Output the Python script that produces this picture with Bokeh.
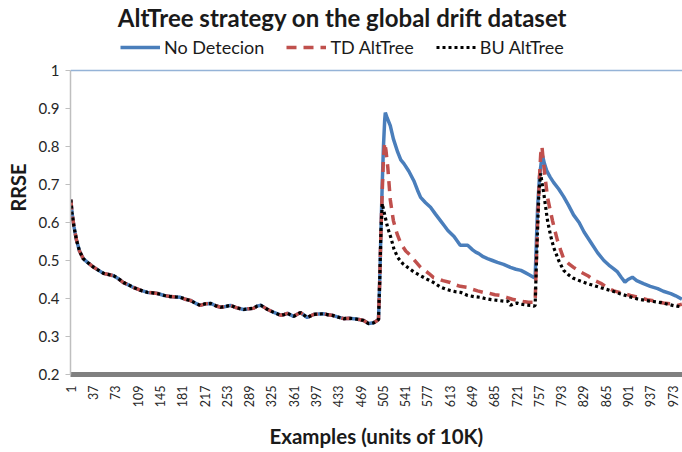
from bokeh.plotting import figure
from bokeh.models import Range1d, FixedTicker, Legend, LegendItem, Span, Label
from bokeh.embed import file_html
from bokeh.resources import INLINE
import math

# ---------------- data ----------------
x_ticks = [1, 37, 73, 109, 145, 181, 217, 253, 289, 325, 361, 397, 433, 469,
           505, 541, 577, 613, 649, 685, 721, 757, 793, 829, 865, 901, 937, 973]
y_ticks = [0.2, 0.3, 0.4, 0.5, 0.6, 0.7, 0.8, 0.9, 1.0]

# segment before the first drift: the three strategies coincide
x_shared = [1, 3, 6, 10, 15, 21, 28, 38, 46, 54, 62, 70, 78, 86, 94, 102, 113, 125,
            133, 141, 152, 162, 170, 178, 186, 194, 202, 210, 218, 227, 235, 243, 251,
            259, 268, 280, 288, 296, 302, 308, 314, 319, 328, 340, 346, 351, 356, 361,
            366, 372, 378, 383, 388, 393, 401, 409, 417, 425, 433, 442, 450, 458, 466,
            474, 482, 490, 496, 498]
y_shared = [0.66, 0.625, 0.59, 0.555, 0.525, 0.505, 0.495, 0.482, 0.474, 0.466, 0.463,
            0.46, 0.452, 0.442, 0.436, 0.429, 0.422, 0.416, 0.415, 0.413, 0.408, 0.405,
            0.404, 0.403, 0.398, 0.395, 0.388, 0.382, 0.386, 0.387, 0.381, 0.377, 0.379,
            0.382, 0.376, 0.371, 0.373, 0.374, 0.38, 0.382, 0.376, 0.371, 0.364, 0.356,
            0.358, 0.361, 0.357, 0.353, 0.358, 0.363, 0.356, 0.35, 0.354, 0.358, 0.359,
            0.36, 0.357, 0.355, 0.351, 0.347, 0.348, 0.347, 0.345, 0.342, 0.334, 0.336,
            0.342, 0.345]

# No Detecion after the first drift
x_nd = [500, 502, 504, 506, 508, 509, 512, 517, 522, 529, 534, 539, 547, 555, 561, 566,
        574, 582, 590, 598, 604, 610, 620, 630, 642, 650, 655, 660, 667, 674, 682, 690,
        700, 711, 720, 728, 735, 742, 749, 751,
        753, 755, 758, 761, 763, 766, 770, 775, 781, 789, 797, 805, 813, 822, 830, 840,
        852, 862, 870, 878, 884, 890, 896, 901, 908, 915, 926, 937, 949, 958, 970, 978, 988]
y_nd = [0.45, 0.58, 0.70, 0.80, 0.87, 0.889, 0.875, 0.855, 0.82, 0.785, 0.765, 0.755,
        0.735, 0.71, 0.685, 0.666, 0.652, 0.64, 0.622, 0.605, 0.592, 0.579, 0.563, 0.54,
        0.54, 0.528, 0.522, 0.518, 0.51, 0.505, 0.5, 0.495, 0.49, 0.482, 0.477, 0.474,
        0.468, 0.462, 0.455, 0.455,
        0.55, 0.64, 0.72, 0.76, 0.775, 0.755, 0.735, 0.72, 0.705, 0.688, 0.668, 0.645,
        0.62, 0.6, 0.575, 0.55, 0.52, 0.5, 0.488, 0.478, 0.47, 0.456, 0.443, 0.45, 0.456,
        0.447, 0.439, 0.432, 0.426, 0.419, 0.413, 0.407, 0.398]

# TD AltTree after the first drift
x_td = [500, 502, 504, 506, 508, 510, 513, 517, 522, 528, 534, 542, 550, 558, 566, 572,
        580, 587, 594, 602, 614, 620, 630, 642, 648, 658, 668, 676, 686, 695, 705, 714,
        722, 732, 740, 749, 751,
        753, 755, 758, 760, 762, 764, 767, 771, 775, 779, 783, 787, 792, 797, 805, 813,
        824, 836, 846, 857, 868, 878, 890, 905, 918, 932, 945, 958, 970, 981, 988]
y_td = [0.45, 0.58, 0.68, 0.77, 0.81, 0.79, 0.745, 0.66, 0.605, 0.57, 0.545, 0.525,
        0.513, 0.497, 0.482, 0.475, 0.465, 0.455, 0.452, 0.447, 0.442, 0.437, 0.432,
        0.429, 0.425, 0.42, 0.416, 0.414, 0.41, 0.408, 0.403, 0.398, 0.395, 0.392, 0.39,
        0.39, 0.39,
        0.5, 0.6, 0.72, 0.78, 0.80, 0.765, 0.72, 0.666, 0.635, 0.605, 0.578, 0.553, 0.528,
        0.505, 0.492, 0.482, 0.47, 0.46, 0.448, 0.44, 0.428, 0.42, 0.415, 0.408, 0.403,
        0.397, 0.393, 0.388, 0.386, 0.382, 0.385]

# BU AltTree after the first drift
x_bu = [500, 502, 504, 506, 509, 513, 518, 523, 529, 537, 545, 555, 566, 576, 587, 598,
        606, 614, 622, 631, 642, 652, 663, 670, 680, 690, 700, 707, 711, 716, 722, 728,
        736, 744, 749, 751,
        753, 755, 757, 760, 762, 765, 768, 771, 776, 781, 789, 797, 805, 813, 824, 836,
        848, 862, 875, 889, 903, 916, 929, 942, 955, 965, 975, 988]
y_bu = [0.45, 0.58, 0.65, 0.635, 0.613, 0.585, 0.56, 0.53, 0.508, 0.492, 0.482, 0.47,
        0.46, 0.451, 0.442, 0.43, 0.425, 0.421, 0.418, 0.416, 0.408, 0.405, 0.403, 0.4,
        0.397, 0.395, 0.393, 0.393, 0.382, 0.386, 0.388, 0.385, 0.383, 0.382, 0.38, 0.382,
        0.49, 0.59, 0.68, 0.729, 0.705, 0.676, 0.64, 0.605, 0.565, 0.534, 0.5, 0.474,
        0.462, 0.453, 0.446, 0.439, 0.433, 0.426, 0.42, 0.412, 0.405, 0.399, 0.395,
        0.392, 0.389, 0.385, 0.381, 0.378]

series_names = ["No Detecion", "TD AltTree", "BU AltTree"]
series_x = [x_shared + x_nd, x_shared + x_td, x_shared + x_bu]
series_y = [y_shared + y_nd, y_shared + y_td, y_shared + y_bu]
series_colors = ["#4A7EBB", "#C0504D", "#000000"]

# ---------------- figure ----------------
FONT = "Lato"
# the frame reaches the top of the canvas so that title and legend sit inside it
p = figure(width=682, height=452, output_backend="svg", toolbar_location=None,
           x_range=Range1d(0.5, 989), y_range=Range1d(0.2, 1.1842),
           min_border_left=70, min_border_right=0, min_border_top=0,
           min_border_bottom=78, title=None)
p.outline_line_color = None
p.xgrid.visible = False
p.ygrid.visible = False
p.background_fill_color = "white"
p.border_fill_color = "white"

styles = [dict(line_width=3.5, line_dash="solid"),
          dict(line_width=3.5, line_dash="10 7"),
          dict(line_width=3.2, line_dash="3 3")]
renderers = []
for xs, ys, c, st in zip(series_x, series_y, series_colors, styles):
    r = p.line(xs, ys, line_color=c, **st)
    renderers.append(r)

# top line at 1.0
p.add_layout(Span(location=1.0, dimension="width", line_color="#95B3D7", line_width=1.5))

# x axis
xa = p.xaxis[0]
xa.ticker = FixedTicker(ticks=x_ticks)
xa.major_label_orientation = math.pi / 2
xa.major_label_text_font = FONT
xa.major_label_text_font_size = "12.5px"
xa.major_label_text_color = "#262626"
xa.major_label_standoff = 5
xa.axis_line_color = "#808080"
xa.axis_line_width = 5
xa.major_tick_line_color = None
xa.minor_tick_line_color = None
xa.axis_label = "Examples (units of 10K)"
xa.axis_label_text_font = FONT
xa.axis_label_text_font_style = "bold"
xa.axis_label_text_font_size = "20.5px"
xa.axis_label_text_color = "#1a1a1a"
xa.axis_label_standoff = 14

# y axis
ya = p.yaxis[0]
ya.ticker = FixedTicker(ticks=y_ticks)
ya.bounds = (0.2, 1.0)
ya.major_label_overrides = {1.0: "1"}
ya.major_label_text_font = FONT
ya.major_label_text_font_size = "15px"
ya.major_label_text_color = "#262626"
ya.axis_line_color = "#BFBFBF"
ya.axis_line_width = 1.5
ya.major_tick_line_color = "#BFBFBF"
ya.major_tick_out = 5
ya.major_tick_in = 0
ya.minor_tick_line_color = None
ya.major_label_standoff = 6
ya.axis_label = "RRSE"
ya.axis_label_text_font = FONT
ya.axis_label_text_font_style = "bold"
ya.axis_label_text_font_size = "20px"
ya.axis_label_text_color = "#1a1a1a"
ya.axis_label_standoff = 6

# title (screen units relative to the frame, origin at its bottom-left)
p.add_layout(Label(x=272, y=357, x_units="screen", y_units="screen",
                   text="AltTree strategy on the global drift dataset",
                   text_font=FONT, text_font_style="bold", text_font_size="24px",
                   text_color="#1a1a1a", text_align="center", text_baseline="middle"))

# legend (location = its bottom-left corner, relative to the frame's bottom-left)
legend = Legend(items=[LegendItem(label=n, renderers=[r]) for n, r in zip(series_names, renderers)],
                orientation="horizontal", location=(50, 316),
                glyph_width=40, glyph_height=20, label_height=20, label_standoff=4,
                spacing=22, padding=0, margin=0, border_line_color=None,
                background_fill_alpha=0, label_text_font=FONT,
                label_text_font_size="18px", label_text_color="#1a1a1a")
p.add_layout(legend)

open("out.html", "w").write(file_html(p, INLINE))
